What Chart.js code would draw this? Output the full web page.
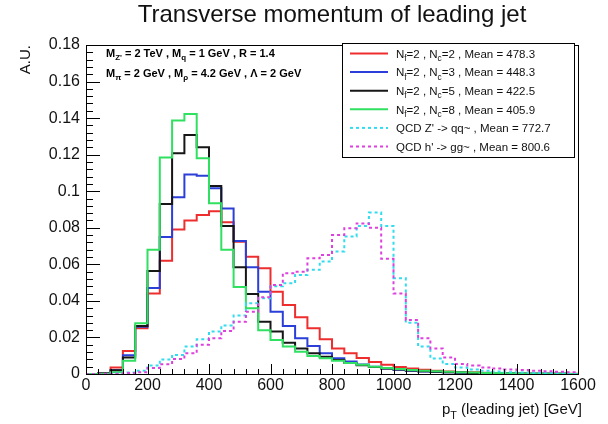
<!DOCTYPE html>
<html><head><meta charset="utf-8">
<script src="https://cdn.jsdelivr.net/npm/chart.js@4.4.1/dist/chart.umd.min.js"></script>
<style>html,body{margin:0;padding:0;background:#fff;}#wrap{width:608px;height:424px;position:relative;}</style>
</head><body><div id="wrap"><canvas id="c" width="608" height="424"></canvas></div>
<script>
// ---- data ----
const binEdges = [0,40,80,120,160,200,240,280,320,360,400,440,480,520,560,600,640,680,720,760,800,840,880,920,960,1000,1040,1080,1120,1160,1200,1240,1280,1320,1360,1400,1440,1480,1520,1560,1600];
const redValues = [0,0.0006,0.0035,0.0126,0.025,0.044,0.062,0.079,0.084,0.087,0.089,0.083,0.0724,0.0642,0.0578,0.045,0.0378,0.031,0.025,0.019,0.014,0.0113,0.0088,0.0065,0.005,0.0038,0.003,0.0023,0.0018,0.0014,0.0011,0.0009,0.0007,0.0005,0.0004,0.0003,0.0002,0.0002,0.0001,0.0001];
const blueValues = [0,0.0003,0.002,0.0102,0.0258,0.047,0.075,0.0967,0.1092,0.1084,0.1016,0.0905,0.0727,0.0584,0.045,0.034,0.0263,0.0195,0.0153,0.0113,0.0086,0.0068,0.0052,0.004,0.003,0.0023,0.0018,0.0014,0.0011,0.0009,0.0007,0.0005,0.0004,0.0003,0.0002,0.0002,0.0001,0.0001,0.0001,0];
const blackValues = [0,0.0003,0.002,0.009,0.0263,0.0564,0.093,0.1208,0.1308,0.124,0.1029,0.081,0.0584,0.0438,0.0286,0.0232,0.0171,0.014,0.0113,0.0095,0.0077,0.006,0.0048,0.0038,0.003,0.0024,0.0019,0.0015,0.0012,0.001,0.0008,0.0006,0.0005,0.0004,0.0003,0.0002,0.0002,0.0001,0.0001,0];
const greenValues = [0,0.0002,0.001,0.0073,0.0277,0.068,0.1184,0.1387,0.1423,0.118,0.0934,0.068,0.0476,0.036,0.024,0.0186,0.015,0.0122,0.0099,0.0086,0.0073,0.006,0.005,0.004,0.0033,0.0027,0.0022,0.0018,0.0015,0.0012,0.001,0.0008,0.0006,0.0005,0.0004,0.0003,0.0002,0.0002,0.0001,0];
const cyanValues = [0,0,0.0003,0.0008,0.0018,0.0046,0.008,0.0104,0.015,0.019,0.0232,0.0265,0.032,0.0387,0.0415,0.048,0.0496,0.0542,0.057,0.0615,0.067,0.0752,0.081,0.0883,0.081,0.0524,0.028,0.015,0.0085,0.0055,0.0035,0.0025,0.0018,0.0013,0.001,0.0008,0.0006,0.0004,0.0003,0.0002];
const magentaValues = [0,0,0.0002,0.0005,0.001,0.0033,0.0053,0.0082,0.0113,0.016,0.0195,0.0235,0.0286,0.034,0.042,0.0487,0.0551,0.056,0.0633,0.0651,0.076,0.0797,0.0824,0.080,0.063,0.0441,0.0296,0.0195,0.014,0.009,0.0055,0.0046,0.0036,0.003,0.0025,0.0022,0.0018,0.0015,0.0012,0.001];
const seriesLabels = [
  'N_{f}=2 , N_{c}=2 , Mean = 478.3',
  'N_{f}=2 , N_{c}=3 , Mean = 448.3',
  'N_{f}=2 , N_{c}=5 , Mean = 422.5',
  'N_{f}=2 , N_{c}=8 , Mean = 405.9',
  "QCD Z' -> qq~ , Mean = 772.7",
  "QCD h' -> gg~ , Mean = 800.6"
];
const annotationLines = [
  "M_{Z'} = 2 TeV , M_{q} = 1 GeV , R = 1.4",
  "M_{\u03C0} = 2 GeV , M_{\u03C1} = 4.2 GeV , \u039B = 2 GeV"
];
const titleText = 'Transverse momentum of leading jet';
const xTitle = 'p_{T} (leading jet) [GeV]';
const yTitle = 'A.U.';
const xTickStep = 200, xMinorStep = 40;
const yTickStep = 0.02, yMinorStep = 0.004;

// ---- styles ----
const FAM = '"Liberation Sans", Arial, Helvetica, sans-serif';
const colors = ['#ee2e2e','#2b3fd8','#161616','#30e060','#30dcee','#dd40dd'];
const dashes = [[],[],[],[],[3,3],[3,3]];
const allValues = [redValues, blueValues, blackValues, greenValues, cyanValues, magentaValues];

function histPoints(vals){
  return binEdges.map((x,i)=>({x:x, y: i < vals.length ? vals[i] : vals[vals.length-1]}));
}

function richParts(str){
  const parts=[]; const re=/_\{([^}]*)\}/g; let last=0, m;
  while((m=re.exec(str))){ if(m.index>last) parts.push({t:str.slice(last,m.index),sub:false}); parts.push({t:m[1],sub:true}); last=re.lastIndex; }
  if(last<str.length) parts.push({t:str.slice(last),sub:false});
  return parts;
}
function drawRich(ctx,str,x,y,size,weight,align,color){
  const parts=richParts(str); const f=s=>weight+' '+s+'px '+FAM;
  let w=0; parts.forEach(p=>{ctx.font=f(p.sub?size*0.72:size); p.w=ctx.measureText(p.t).width; w+=p.w;});
  let cx = align==='right'? x-w : align==='center'? x-w/2 : x;
  ctx.fillStyle=color||'#000'; ctx.textAlign='left'; ctx.textBaseline='alphabetic';
  parts.forEach(p=>{ctx.font=f(p.sub?size*0.72:size); ctx.fillText(p.t,cx,p.sub?y+size*0.3:y); cx+=p.w;});
}

const rootPlugin = {
  id:'rootStyle',
  afterDatasetsDraw(chart){
    const {ctx, chartArea:a, scales:{x,y}} = chart;
    ctx.save();
    // frame
    ctx.strokeStyle='#000'; ctx.lineWidth=1; ctx.setLineDash([]);
    ctx.strokeRect(Math.round(a.left)+0.5, Math.round(a.top)+0.5, Math.round(a.right-a.left), Math.round(a.bottom-a.top));
    // y ticks (inside)
    const nY = Math.round((y.max-y.min)/yMinorStep);
    ctx.beginPath();
    for(let i=0;i<=nY;i++){
      const v=y.min+i*yMinorStep; const py=Math.round(y.getPixelForValue(v))+0.5;
      const len = (i % Math.round(yTickStep/yMinorStep)===0) ? 14 : 7;
      ctx.moveTo(a.left, py); ctx.lineTo(a.left+len, py);
    }
    const nX = Math.round((x.max-x.min)/xMinorStep);
    for(let i=0;i<=nX;i++){
      const v=x.min+i*xMinorStep; const px=Math.round(x.getPixelForValue(v))+0.5;
      const len = (i % Math.round(xTickStep/xMinorStep)===0) ? 10 : 5;
      ctx.moveTo(px, a.bottom); ctx.lineTo(px, a.bottom-len);
    }
    ctx.stroke();
    // axis titles
    drawRich(ctx, xTitle, a.right+4, 414, 15, 'normal', 'right', '#111');
    ctx.save(); ctx.translate(30, a.top); ctx.rotate(-Math.PI/2);
    drawRich(ctx, yTitle, 0, 0, 15, 'normal', 'right', '#111');
    ctx.restore();
    // annotation
    drawRich(ctx, annotationLines[0], 106, 57, 11, 'bold', 'left', '#000');
    drawRich(ctx, annotationLines[1], 106, 77, 11, 'bold', 'left', '#000');
    // legend
    const L={x0:342,y0:43,x1:574,y1:157};
    ctx.fillStyle='#fff'; ctx.fillRect(L.x0,L.y0,L.x1-L.x0,L.y1-L.y0);
    ctx.strokeStyle='#000'; ctx.lineWidth=1; ctx.strokeRect(L.x0+0.5,L.y0+0.5,L.x1-L.x0,L.y1-L.y0);
    chart.data.datasets.forEach((ds,i)=>{
      const cy = 53.5 + i*18.6;
      ctx.strokeStyle=ds.borderColor; ctx.lineWidth=2; ctx.setLineDash(ds.borderDash||[]);
      ctx.beginPath(); ctx.moveTo(350,cy); ctx.lineTo(388,cy); ctx.stroke();
      ctx.setLineDash([]);
      drawRich(ctx, ds.label, 396, cy+4.2, 11.5, 'normal', 'left', '#111');
    });
    ctx.restore();
  }
};

const datasets = allValues.map((vals,i)=>({
  label: seriesLabels[i],
  data: histPoints(vals),
  borderColor: colors[i],
  borderWidth: 2,
  borderDash: dashes[i],
  stepped: true,
  pointRadius: 0,
  fill: false,
  order: allValues.length - i
}));

new Chart(document.getElementById('c'), {
  type:'line',
  data:{datasets},
  options:{
    responsive:false, animation:false, devicePixelRatio:1,
    layout:{padding:{left:0,right:30,top:0,bottom:0}},
    plugins:{
      legend:{display:false}, tooltip:{enabled:false},
      title:{display:true, text:titleText, fullSize:false, color:'#111',
        font:{family:FAM, size:24, weight:'normal', lineHeight:1.2}, padding:{top:1,bottom:15.2}}
    },
    scales:{
      x:{type:'linear', min:0, max:1600,
        ticks:{stepSize:xTickStep, color:'#111', font:{family:FAM,size:16}, padding:2, maxRotation:0,
          callback:v=>String(v)},
        grid:{display:false, drawTicks:false, tickLength:0}, border:{display:false},
        afterFit(s){ s.height=50; }},
      y:{type:'linear', min:0, max:0.18,
        ticks:{stepSize:yTickStep, color:'#111', font:{family:FAM,size:16}, padding:6,
          callback:v=>String(+v.toFixed(2))},
        grid:{display:false, drawTicks:false, tickLength:0}, border:{display:false},
        afterFit(s){ s.width=86; }}
    }
  },
  plugins:[rootPlugin]
});
</script></body></html>
